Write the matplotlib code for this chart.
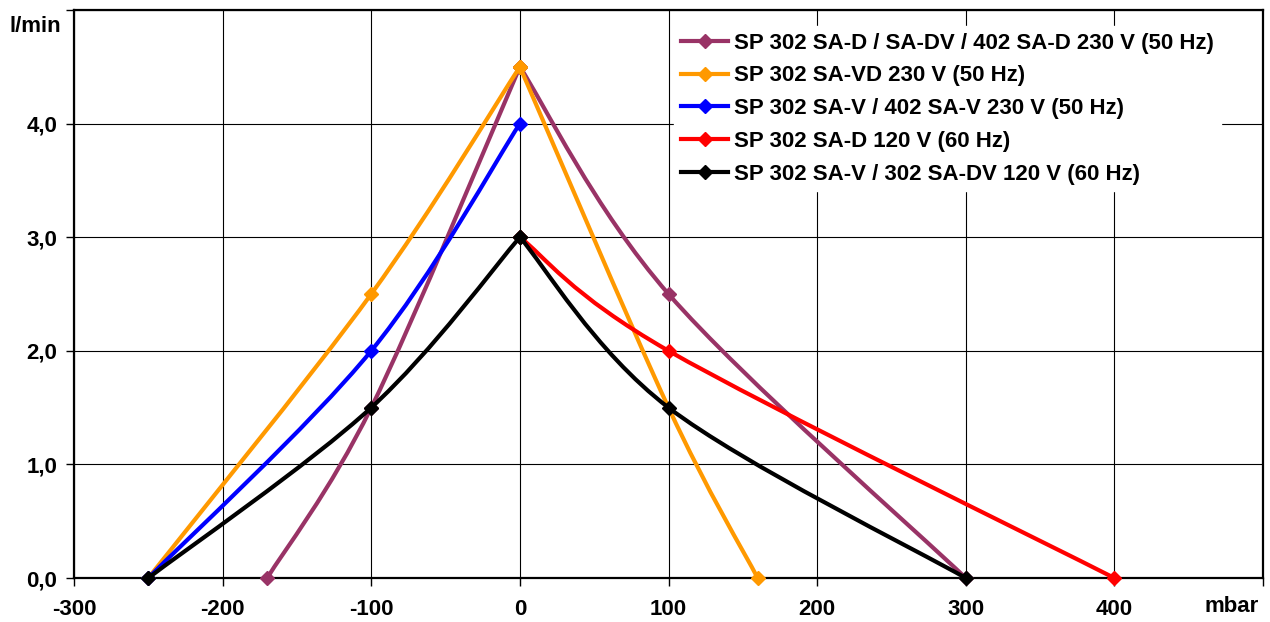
import matplotlib.pyplot as plt
from matplotlib.path import Path
from matplotlib.patches import PathPatch
from matplotlib.lines import Line2D

plt.rcParams["font.family"] = ["Liberation Sans", "DejaVu Sans"]
plt.rcParams["font.weight"] = "bold"

# Data (mbar, l/min); each side of the peak is its own smoothed series
labels = [
    "SP 302 SA-D / SA-DV / 402 SA-D 230 V (50 Hz)",
    "SP 302 SA-VD 230 V (50 Hz)",
    "SP 302 SA-V / 402 SA-V 230 V (50 Hz)",
    "SP 302 SA-D 120 V (60 Hz)",
    "SP 302 SA-V / 302 SA-DV 120 V (60 Hz)",
]
colors = ["#993366", "#FF9900", "#0000FF", "#FF0000", "#000000"]

purple_left_x = [-170, -100, 0]
purple_left_y = [0.0, 1.5, 4.5]
purple_right_x = [0, 100, 300]
purple_right_y = [4.5, 2.5, 0.0]

orange_left_x = [-250, -100, 0]
orange_left_y = [0.0, 2.5, 4.5]
orange_right_x = [0, 100, 160]
orange_right_y = [4.5, 1.5, 0.0]
orange_right_marked = [True, False, True]

blue_x = [-250, -100, 0]
blue_y = [0.0, 2.0, 4.0]

red_x = [0, 100, 400]
red_y = [3.0, 2.0, 0.0]

black_left_x = [-250, -100, 0]
black_left_y = [0.0, 1.5, 3.0]
black_right_x = [0, 100, 300]
black_right_y = [3.0, 1.5, 0.0]

x_ticks = [-300, -200, -100, 0, 100, 200, 300, 400, 500]
x_ticklabels = ["-300", "-200", "-100", "0", "100", "200", "300", "400", ""]
y_ticks = [0, 1, 2, 3, 4, 5]
y_ticklabels = ["0,0", "1,0", "2,0", "3,0", "4,0", ""]


def smooth_path(xs, ys):
    # Excel-style smoothed line: cubic Bezier with Catmull-Rom control points
    pts = list(zip(xs, ys))
    verts = [pts[0]]
    codes = [Path.MOVETO]
    n = len(pts)
    for i in range(n - 1):
        p0 = pts[max(i - 1, 0)]
        p1 = pts[i]
        p2 = pts[i + 1]
        p3 = pts[min(i + 2, n - 1)]
        c1 = (p1[0] + (p2[0] - p0[0]) / 6, p1[1] + (p2[1] - p0[1]) / 6)
        c2 = (p2[0] - (p3[0] - p1[0]) / 6, p2[1] - (p3[1] - p1[1]) / 6)
        verts += [c1, c2, p2]
        codes += [Path.CURVE4] * 3
    return Path(verts, codes)


fig = plt.figure(figsize=(12.7, 6.22), dpi=100)
ax = fig.add_axes([74 / 1270, 44 / 622, 1189 / 1270, 568 / 622])

series = [
    (0, [(purple_left_x, purple_left_y, None), (purple_right_x, purple_right_y, None)]),
    (1, [(orange_left_x, orange_left_y, None), (orange_right_x, orange_right_y, orange_right_marked)]),
    (2, [(blue_x, blue_y, None)]),
    (3, [(red_x, red_y, None)]),
    (4, [(black_left_x, black_left_y, None), (black_right_x, black_right_y, None)]),
]

lw = 3.0
ms = 7.5
for idx, parts in series:
    c = colors[idx]
    for xs, ys, marked in parts:
        ax.add_patch(PathPatch(smooth_path(xs, ys), fill=False, edgecolor=c,
                               lw=lw, capstyle="round", joinstyle="round",
                               zorder=3 + idx))
        mx = [x for k, x in enumerate(xs) if marked is None or marked[k]]
        my = [y for k, y in enumerate(ys) if marked is None or marked[k]]
        ax.plot(mx, my, linestyle="none", marker="D", ms=ms, color=c,
                zorder=3.5 + idx, clip_on=False)

ax.set_xlim(-300, 500)
ax.set_ylim(0, 5)
ax.set_xticks(x_ticks)
ax.set_xticklabels(x_ticklabels)
ax.set_yticks(y_ticks)
ax.set_yticklabels(y_ticklabels)
ax.tick_params(axis="both", direction="out", length=6, width=1, labelsize=16,
               color="black")
ax.tick_params(axis="x", pad=9)
ax.tick_params(axis="y", pad=6)
ax.grid(True, color="black", lw=0.8)
ax.set_axisbelow(True)
for s in ax.spines.values():
    s.set_linewidth(1.6)

fig.text(1232 / 1270, 1 - 607 / 622, "mbar", ha="center", va="center",
         fontsize=16, fontweight="bold")
fig.text(35 / 1270, 1 - 27 / 622, "l/min", ha="center", va="center",
         fontsize=16, fontweight="bold")

handles = [Line2D([0], [0], color=c, lw=lw, marker="D", ms=ms)
           for c in colors]
leg = ax.legend(handles, labels, loc="upper left",
                bbox_to_anchor=(674 / 1270, 1 - 26 / 622),
                bbox_transform=fig.transFigure, frameon=True, fancybox=False,
                framealpha=1, edgecolor="white", fontsize=16,
                handlelength=2.15, handletextpad=0.25, labelspacing=0.53,
                borderpad=0.3, borderaxespad=0)
leg.set_zorder(20)

plt.savefig("out.png", dpi=100)
